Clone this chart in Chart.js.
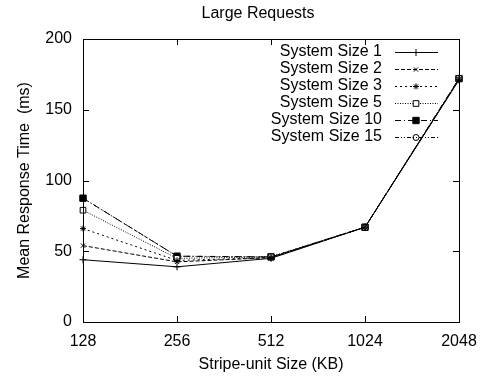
<!DOCTYPE html>
<html>
<head>
<meta charset="utf-8">
<script src="https://cdn.jsdelivr.net/npm/chart.js@4.4.1/dist/chart.umd.min.js"></script>
<style>
  body { margin: 0; background: #fff; }
  canvas { display: block; }
</style>
</head>
<body>
<canvas id="myChart" width="488" height="379"></canvas>
<script>
// values
const stripeSizes = ['128', '256', '512', '1024', '2048'];
const yTicks = [0, 50, 100, 150, 200];
const size1 = [44, 39, 45, 67, 171];
const size2 = [54, 42.5, 45.5, 67, 171.5];
const size3 = [66, 43.5, 45.5, 67, 171.5];
const size5 = [79, 45, 46, 67, 172];
const size10 = [87.5, 46.5, 46, 67, 172];
const size15 = [87.5, 46.5, 46, 67, 172];
const chartTitle = 'Large Requests';

Chart.defaults.font.family = '"Liberation Sans", Arial, Helvetica, sans-serif';
Chart.defaults.font.size = 16;
Chart.defaults.color = '#000';

function series(label, values, dash, style, radius, fill) {
    return {
        label: label,
        data: values,
        borderColor: '#000',
        borderWidth: 1,
        borderDash: dash,
        pointStyle: style,
        pointRadius: radius,
        pointBorderWidth: 1,
        pointBorderColor: '#000',
        pointBackgroundColor: fill,
        fill: false,
        tension: 0
    };
}

// frame with inward ticks on all four sides, plus the title
const frame = {
    id: 'frame',
    afterDatasetsDraw(chart) {
        const ctx = chart.ctx, a = chart.chartArea;
        const xs = chart.scales.x, ys = chart.scales.y;
        ctx.save();
        ctx.strokeStyle = '#000';
        ctx.lineWidth = 1;
        ctx.setLineDash([]);
        ctx.strokeRect(Math.round(a.left) + 0.5, Math.round(a.top) + 0.5,
            Math.round(a.right - a.left), Math.round(a.bottom - a.top));
        ctx.beginPath();
        stripeSizes.forEach((s, i) => {
            const x = Math.round(xs.getPixelForValue(i)) + 0.5;
            ctx.moveTo(x, a.bottom); ctx.lineTo(x, a.bottom - 6);
            ctx.moveTo(x, a.top); ctx.lineTo(x, a.top + 6);
        });
        yTicks.forEach(v => {
            const y = Math.round(ys.getPixelForValue(v)) + 0.5;
            ctx.moveTo(a.left, y); ctx.lineTo(a.left + 6, y);
            ctx.moveTo(a.right, y); ctx.lineTo(a.right - 6, y);
        });
        ctx.stroke();
        ctx.font = '16px "Liberation Sans", Arial, sans-serif';
        ctx.fillStyle = '#000';
        ctx.textAlign = 'center';
        ctx.textBaseline = 'middle';
        ctx.fillText(chartTitle, 258, 14);
        ctx.restore();
    }
};

// gnuplot style key: text right aligned, sample on the right
const key = {
    id: 'key',
    afterDraw(chart) {
        const ctx = chart.ctx;
        ctx.save();
        chart.data.datasets.forEach((ds, i) => {
            const y = 52 + i * 16.9;
            ctx.font = '16px "Liberation Sans", Arial, sans-serif';
            ctx.fillStyle = '#000';
            ctx.textAlign = 'right';
            ctx.textBaseline = 'middle';
            ctx.fillText(ds.label, 382, y);
            ctx.strokeStyle = '#000';
            ctx.lineWidth = 1;
            ctx.setLineDash(ds.borderDash);
            ctx.beginPath();
            ctx.moveTo(395, Math.round(y) + 0.5);
            ctx.lineTo(438, Math.round(y) + 0.5);
            ctx.stroke();
            ctx.setLineDash([]);
            ctx.fillStyle = ds.pointBackgroundColor;
            Chart.helpers.drawPoint(ctx, {
                pointStyle: ds.pointStyle,
                radius: ds.pointRadius,
                rotation: 0,
                borderWidth: 1
            }, 416, Math.round(y) + 0.5);
        });
        ctx.restore();
    }
};

const data = {
    labels: stripeSizes,
    datasets: [
        series('System Size 1', size1, [], 'cross', 3.5, '#000'),
        series('System Size 2', size2, [4, 2], 'crossRot', 3, '#000'),
        series('System Size 3', size3, [2, 3], 'star', 3, '#000'),
        series('System Size 5', size5, [1, 1.5], 'rect', 4, '#fff'),
        series('System Size 10', size10, [6, 3, 1, 3], 'rect', 4.5, '#000'),
        series('System Size 15', size15, [4, 2, 1, 2, 1, 2], 'circle', 3, 'rgba(0,0,0,0)')
    ]
};

const config = {
    type: 'line',
    data: data,
    options: {
        responsive: false,
        animation: false,
        devicePixelRatio: 1,
        layout: {
            padding: { left: 0, right: 29, top: 39, bottom: 0 }
        },
        scales: {
            x: {
                type: 'category',
                offset: false,
                grid: { display: false, drawTicks: false },
                border: { display: false },
                ticks: { padding: 10, maxRotation: 0, autoSkip: false },
                title: {
                    display: true,
                    text: 'Stripe-unit Size (KB)',
                    padding: { top: 2, bottom: 5 }
                },
                afterFit(scale) { scale.height = 57; }
            },
            y: {
                min: 0,
                max: 200,
                grid: { display: false, drawTicks: false },
                border: { display: false },
                ticks: { stepSize: 50, padding: 11 },
                title: {
                    display: true,
                    text: 'Mean Response Time  (ms)',
                    padding: { top: 15, bottom: 2 }
                },
                afterFit(scale) { scale.width = 83; }
            }
        },
        plugins: {
            legend: { display: false },
            tooltip: { enabled: false },
            title: { display: false }
        }
    },
    plugins: [frame, key]
};

const myChart = new Chart(document.getElementById('myChart'), config);
</script>
</body>
</html>
